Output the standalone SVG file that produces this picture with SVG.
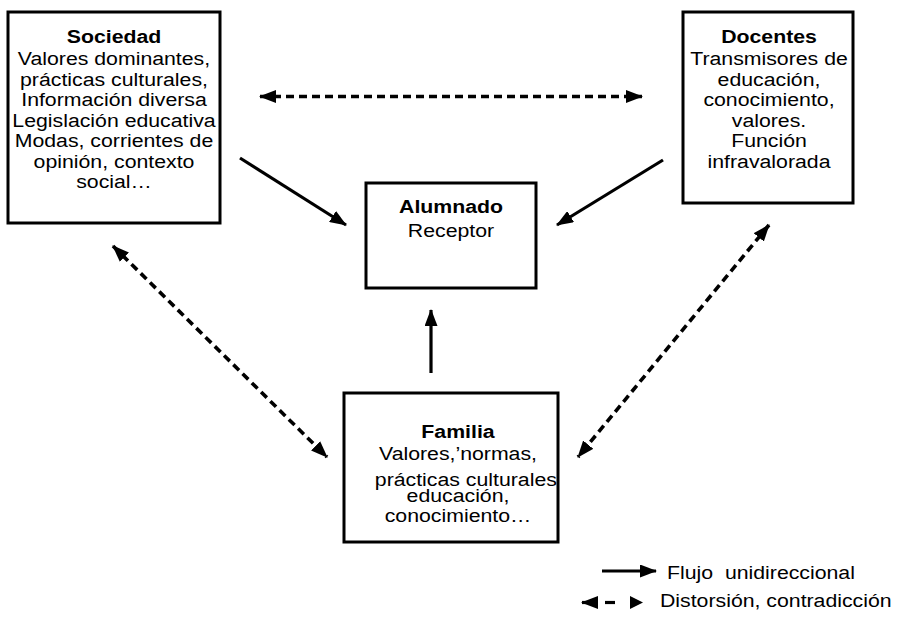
<svg xmlns="http://www.w3.org/2000/svg" width="901" height="626" viewBox="0 0 901 626">
<style>
.box{fill:#fff;stroke:#000;stroke-width:3}
text{font-family:"Liberation Sans",Arial,sans-serif;font-size:19px;fill:#000;text-anchor:middle}
.b{font-weight:bold}
.solid{stroke:#000;stroke-width:3.2;fill:none}
.dash{stroke:#000;stroke-width:3.6;fill:none;stroke-dasharray:8 5}
.lg{text-anchor:start}
</style>
<defs>
<marker id="ah" markerUnits="userSpaceOnUse" markerWidth="17" markerHeight="13" refX="16" refY="6.5" orient="auto-start-reverse" viewBox="0 0 17 13">
<path d="M0,0 L17,6.5 L0,13 z" fill="#000"/>
</marker>
</defs>
<g id="sociedad">
<rect class="box" x="8" y="12" width="212" height="211"/>
<g transform="translate(114,0) scale(1.12,1)">
<text x="0" y="43.5" class="b">Sociedad</text>
<text x="0" y="65.5">Valores dominantes,</text>
<text x="0" y="86">prácticas culturales,</text>
<text x="0" y="106.5">Información diversa</text>
<text x="0" y="127">Legislación educativa</text>
<text x="0" y="147.5">Modas, corrientes de</text>
<text x="0" y="168">opinión, contexto</text>
<text x="0" y="188.5">social…</text>
</g>
</g>
<g id="docentes">
<rect class="box" x="683" y="12" width="170" height="191"/>
<g transform="translate(769,0) scale(1.12,1)">
<text x="0" y="43.5" class="b">Docentes</text>
<text x="0" y="65.5">Transmisores de</text>
<text x="0" y="86">educación,</text>
<text x="0" y="106.5">conocimiento,</text>
<text x="0" y="127">valores.</text>
<text x="0" y="147.5">Función</text>
<text x="0" y="168">infravalorada</text>
</g>
</g>
<g id="alumnado">
<rect class="box" x="366" y="183" width="170" height="105"/>
<g transform="translate(451,0) scale(1.12,1)">
<text x="0" y="213" class="b">Alumnado</text>
<text x="0" y="237">Receptor</text>
</g>
</g>
<g id="familia">
<rect class="box" x="344" y="393" width="214" height="149"/>
<g transform="translate(458,0) scale(1.12,1)">
<text x="0" y="438.5" class="b">Familia</text>
<text x="0" y="460">Valores,’normas,</text>
<text x="7" y="486">prácticas culturales</text>
<text x="0" y="502">educación,</text>
<text x="0" y="522">conocimiento…</text>
</g>
</g>
<g id="connectors">
<line class="solid" x1="240" y1="158" x2="346" y2="225" marker-end="url(#ah)"/>
<line class="solid" x1="663" y1="160" x2="557" y2="225" marker-end="url(#ah)"/>
<line class="solid" x1="431" y1="373" x2="431" y2="310" marker-end="url(#ah)"/>
<line class="dash" x1="260" y1="96.5" x2="642" y2="96.5" marker-start="url(#ah)" marker-end="url(#ah)"/>
<line class="dash" x1="113" y1="246" x2="327" y2="457" marker-start="url(#ah)" marker-end="url(#ah)"/>
<line class="dash" x1="769" y1="225" x2="578" y2="457" marker-start="url(#ah)" marker-end="url(#ah)"/>
</g>
<g id="legend">
<line class="solid" x1="602" y1="571" x2="656" y2="571" marker-end="url(#ah)"/>
<text class="lg" transform="translate(667,0) scale(1.12,1)" x="0" y="579" xml:space="preserve">Flujo  unidireccional</text>
<line class="solid" x1="597" y1="602.5" x2="582" y2="602.5" marker-end="url(#ah)"/>
<line class="solid" x1="605" y1="602.5" x2="615" y2="602.5"/>
<path d="M630,596 L643,602.5 L630,609 z" fill="#000"/>
<text class="lg" transform="translate(660,0) scale(1.12,1)" x="0" y="607" xml:space="preserve">Distorsión, contradicción</text>
</g>
</svg>
